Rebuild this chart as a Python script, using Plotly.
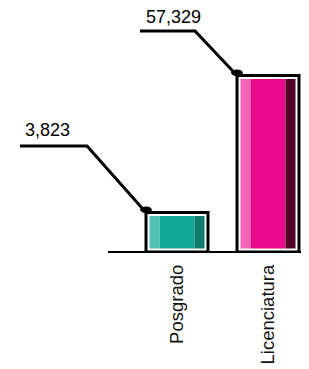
import numpy as np
import plotly.graph_objects as go

# ---- data ----
categories = ["Posgrado", "Licenciatura"]
values = [3823, 57329]
light_colors = ["#52c0b2", "#f464b8"]
main_colors = ["#14a897", "#ec0a8c"]
dark_colors = ["#0f7d6e", "#540029"]

# ---- layout constants (pixels / axis units) ----
# the page body has an 8px margin, so the figure is drawn 8px in from the window edge
W, H = 301, 361
FONT = "Liberation Sans, Arial, Helvetica, sans-serif"
x_idx = np.arange(len(categories))
X0_PX, STEP_PX = 169, 91
half = 31 / STEP_PX            # half bar width (axis units)
w_side = 13.5 / STEP_PX        # side stripe width
w_main = 2 * half - 2 * w_side
PLOT_H = 244
Y_BOTTOM, PX_PER_DECADE = 3.2433, 116.5
frame_base = 10 ** Y_BOTTOM
frame_len = [v - frame_base for v in values]

fig = go.Figure()
# stripes
fig.add_trace(go.Bar(x=x_idx, y=values, offset=-half, width=w_side,
                     marker=dict(color=light_colors, line=dict(width=0))))
fig.add_trace(go.Bar(x=x_idx, y=values, offset=-half + w_side, width=w_main,
                     marker=dict(color=main_colors, line=dict(width=0))))
fig.add_trace(go.Bar(x=x_idx, y=values, offset=half - w_side, width=w_side,
                     marker=dict(color=dark_colors, line=dict(width=0))))
# white gap and black frame (frames start at the axis bottom so they get a bottom edge)
fig.add_trace(go.Bar(x=x_idx, y=frame_len, base=frame_base, offset=-half, width=2 * half,
                     marker=dict(color="rgba(0,0,0,0)", line=dict(color="white", width=7))))
fig.add_trace(go.Bar(x=x_idx, y=frame_len, base=frame_base, offset=-half, width=2 * half,
                     marker=dict(color="rgba(0,0,0,0)", line=dict(color="black", width=3))))

# leader lines, dots and value labels (pixel offsets relative to bar top-left corner)
leader_paths = ["M 0 0 L -59 66.5 L -126 66.5", "M 0 0 L -42 44.5 L -97 44.5"]
label_dx = [-123, -93]
label_dy = [82.5, 58.8]
shapes = []
annotations = []
for i, v in enumerate(values):
    xa = float(x_idx[i] - half)
    shapes.append(dict(type="path", xref="x", yref="y", xsizemode="pixel", ysizemode="pixel",
                       xanchor=xa, yanchor=v, path=leader_paths[i],
                       line=dict(color="black", width=3)))
    shapes.append(dict(type="circle", xref="x", yref="y", xsizemode="pixel", ysizemode="pixel",
                       xanchor=xa, yanchor=v, x0=-5.5, x1=5.5, y0=-5.5, y1=5.5,
                       fillcolor="black", line=dict(color="black", width=1)))
    annotations.append(dict(x=xa, y=float(np.log10(v)), xref="x", yref="y", text=f"{v:,}",
                            showarrow=False, xanchor="left", yanchor="middle",
                            xshift=label_dx[i], yshift=label_dy[i],
                            font=dict(family=FONT, size=18, color="black")))
# baseline
shapes.append(dict(type="line", xref="paper", yref="paper", x0=100 / W, x1=1, y0=0, y1=0,
                   line=dict(color="black", width=2)))

fig.update_layout(
    width=W, height=H, autosize=False,
    margin=dict(l=0, r=0, t=0, b=H - PLOT_H, pad=0),
    paper_bgcolor="white", plot_bgcolor="white",
    barmode="overlay", showlegend=False,
    shapes=shapes, annotations=annotations,
    xaxis=dict(range=[-X0_PX / STEP_PX, (W - X0_PX) / STEP_PX], tickvals=list(x_idx),
               ticktext=categories, tickangle=-90,
               tickfont=dict(family=FONT, size=18.5, color="#111"),
               showgrid=False, zeroline=False, showline=False, ticks="",
               ticklabelstandoff=8, automargin=False, fixedrange=True),
    yaxis=dict(type="log", range=[Y_BOTTOM, Y_BOTTOM + PLOT_H / PX_PER_DECADE], visible=False,
               automargin=False, fixedrange=True),
)

fig.write_html("out.html")
